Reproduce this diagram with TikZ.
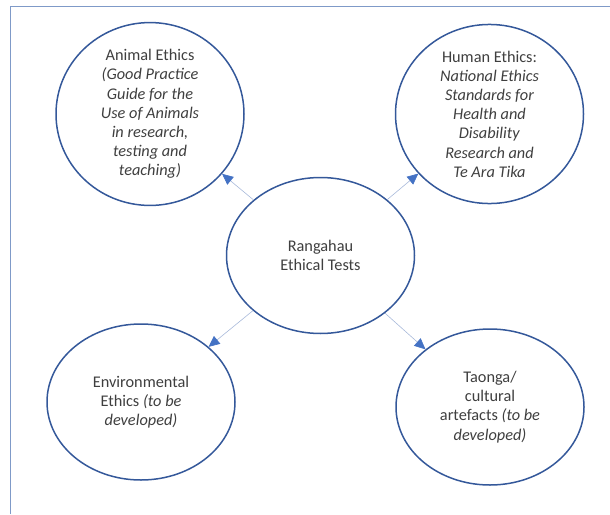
\documentclass[tikz,border=0pt]{standalone}
\usepackage{fontspec}
\setmainfont{Carlito}
\usetikzlibrary{shapes.geometric,arrows.meta}
\definecolor{framecol}{HTML}{7F9AC8}
\definecolor{ringcol}{HTML}{34589A}
\definecolor{linkcol}{HTML}{A8B9DA}
\definecolor{tipcol}{HTML}{4472C4}
\definecolor{txtcol}{HTML}{3F3F3F}
\tikzset{
  bubble/.style={ellipse, draw=ringcol, line width=1.5pt, fill=white,
    minimum width=188pt, minimum height=156pt, inner sep=0pt,
    align=center, text=txtcol,
    font=\fontsize{16.3pt}{19.2pt}\selectfont},
  link/.style={draw=linkcol, line width=0.6pt,
    -{Triangle[length=11pt,width=10pt,color=tipcol]}}
}
\begin{document}
\begin{tikzpicture}[x=1pt,y=-1pt]
  \useasboundingbox (0,0) rectangle (610,514);
  % page frame (top and left edges)
  \draw[framecol, line width=0.9pt] (10.5,514) -- (10.5,6) -- (610,6);

  \node[bubble] (c) at (320.5,255.5) {Rangahau\\Ethical Tests};
  \node[bubble] (a) at (150,114) {Animal Ethics\\\textit{(Good Practice}\\\textit{Guide for the}\\\textit{Use of Animals}\\\textit{in research,}\\\textit{testing and}\\\textit{teaching)}};
  \node[bubble] (h) at (489.5,114) {Human Ethics:\\\textit{National Ethics}\\\textit{Standards for}\\\textit{Health and}\\\textit{Disability}\\\textit{Research and}\\\textit{Te Ara Tika}};
  \node[bubble] (e) at (141,402) {Environmental\\Ethics \textit{(to be}\\\textit{developed)}};
  \node[bubble] (t) at (490,407) {Taonga/\\cultural\\artefacts \textit{(to be}\\\textit{developed)}};

  \draw[link] (c) -- (a);
  \draw[link] (c) -- (h);
  \draw[link] (c) -- (e);
  \draw[link] (c) -- (t);
\end{tikzpicture}
\end{document}
